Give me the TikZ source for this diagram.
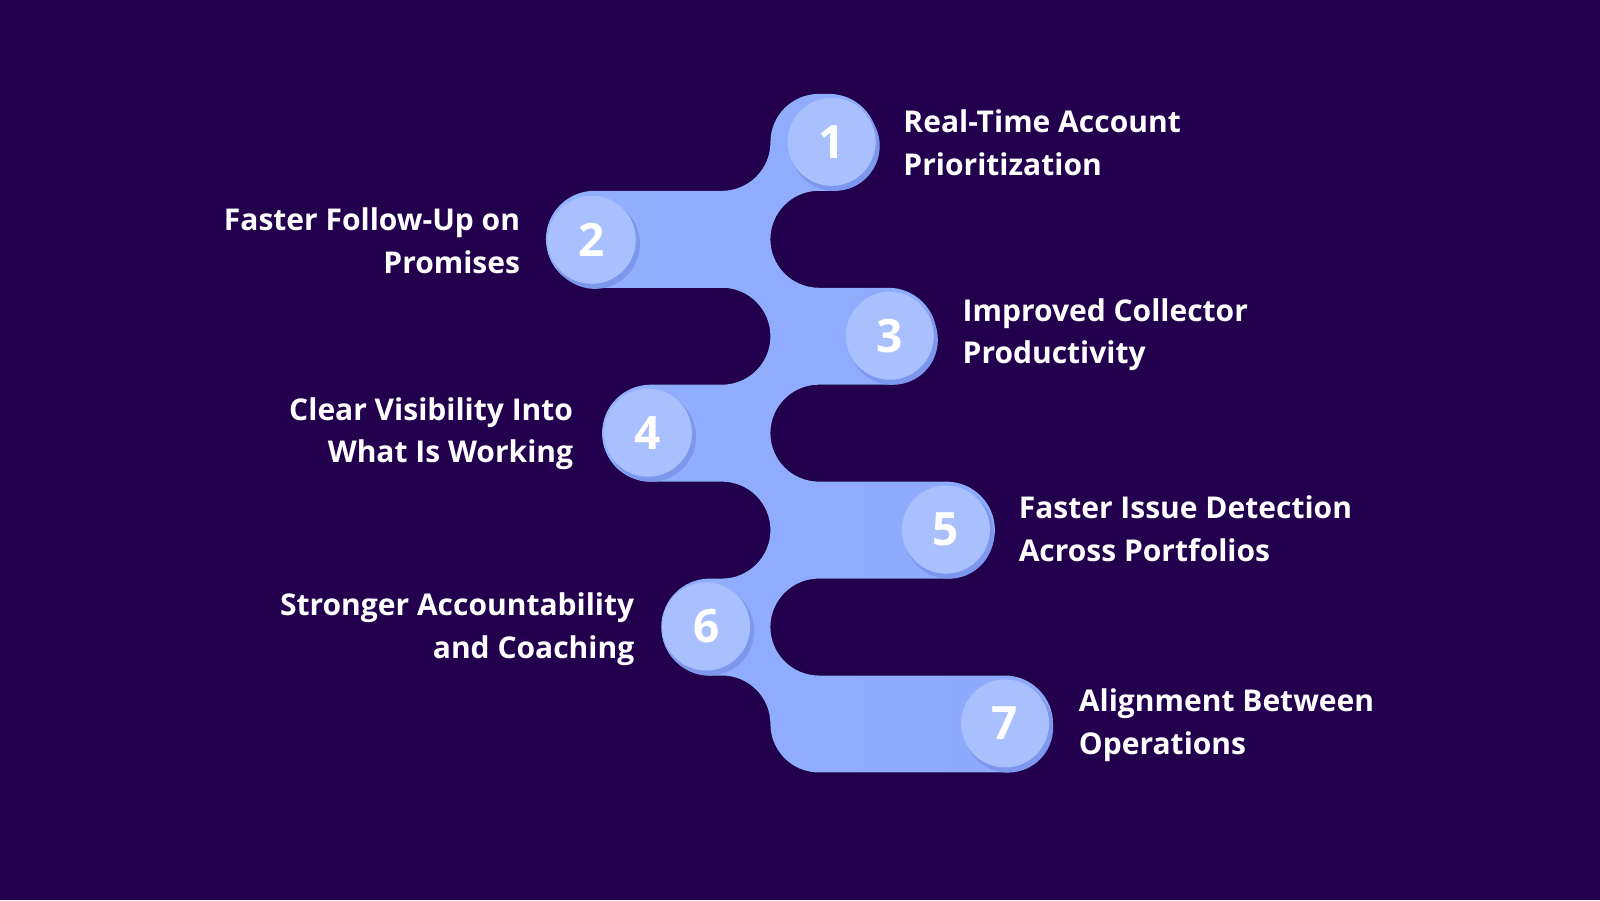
\documentclass[tikz,border=0pt]{standalone}
\usepackage{fontspec}
\setmainfont{Open Sans}
\definecolor{bg}{HTML}{22004E}
\definecolor{band}{HTML}{8CA9FB}
\definecolor{bandlight}{HTML}{93B0FF}
\definecolor{circ}{HTML}{A9BFFE}
\definecolor{shad}{HTML}{7C97EC}
\begin{document}
\begin{tikzpicture}[x=0.5102pt,y=0.5102pt,
  num/.style={circle,minimum size=44pt,inner sep=0,fill=circ,text=white,font=\bfseries\fontsize{23}{23}\selectfont},
  numsh/.style={circle,minimum size=45pt,inner sep=0,fill=shad},
  lab/.style={text=white,font=\bfseries\fontsize{15}{21.4}\selectfont,inner sep=0}]
\fill[bg] (0,0) rectangle (1568,882);
\useasboundingbox (0,0) rectangle (1568,882);
\fill[left color=bandlight, right color=band]
 (802.5,790) -- (812.5,790) arc(90:-90:47.5) -- (802.5,695) arc(90:270:47.5)
 -- (870.5,600) arc(90:-90:47.5) -- (802.5,505) arc(90:270:47.5)
 -- (927.5,410) arc(90:-90:47.5) -- (802.5,315) arc(90:270:47.5)
 -- (984.5,220) arc(90:-90:47.5) -- (802.5,125) arc(270:180:47.5)
 arc(0:90:47.5) -- (695.5,220) arc(-90:-270:47.5)
 -- (707.5,315) arc(-90:90:47.5) -- (637.5,410) arc(-90:-270:47.5)
 -- (707.5,505) arc(-90:90:47.5) -- (582.5,600) arc(-90:-270:47.5)
 -- (707.5,695) arc(-90:0:47.5) arc(180:90:47.5) -- cycle;
\foreach \n/\x/\y in {1/815/743,2/580/647,3/872/553,4/635/458,5/927/363,6/692/268,7/985/173}{
  \node[numsh] (s\n) at (\x+3,\y-4) {};
  \node[num] (c\n) at (\x,\y) {\n};
}
\node[lab,anchor=west,align=left] (l1) at (885,742) {Real-Time Account\\Prioritization};
\node[lab,anchor=east,align=right] (l2) at (510,646) {Faster Follow-Up on\\Promises};
\node[lab,anchor=west,align=left] (l3) at (943,554) {Improved Collector\\Productivity};
\node[lab,anchor=east,align=right] (l4) at (562,457) {Clear Visibility Into\\What Is Working};
\node[lab,anchor=west,align=left] (l5) at (998,364) {Faster Issue Detection\\Across Portfolios};
\node[lab,anchor=east,align=right] (l6) at (622,265) {Stronger Accountability\\and Coaching};
\node[lab,anchor=west,align=left] (l7) at (1057,171) {Alignment Between\\Operations};
\end{tikzpicture}
\end{document}
